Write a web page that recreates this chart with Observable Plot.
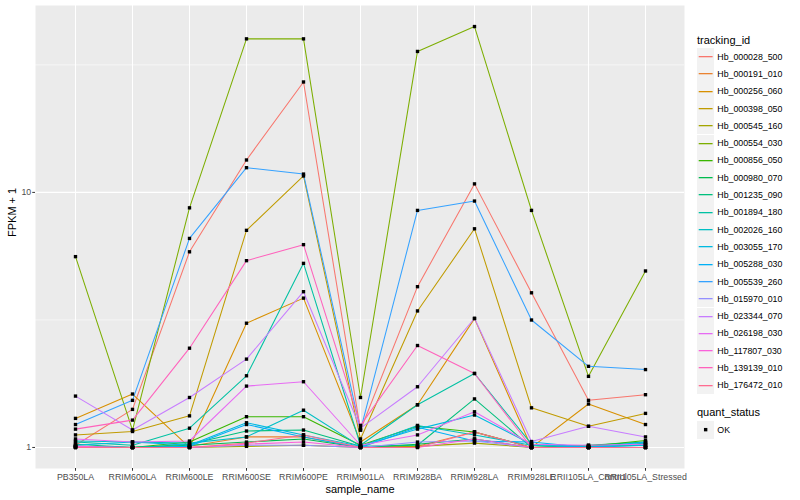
<!DOCTYPE html>
<html>
<head>
<meta charset="utf-8">
<script src="https://cdn.jsdelivr.net/npm/d3@7"></script>
<script src="https://cdn.jsdelivr.net/npm/@observablehq/plot@0.6"></script>
<style>
  html, body { margin: 0; padding: 0; background: #fff; }
  #wrap { position: relative; width: 800px; height: 500px; font-family: "Liberation Sans", Arial, Helvetica, sans-serif; }
  #legend { position: absolute; left: 697px; top: 0; width: 103px; }
  .ltitle { position: absolute; left: 0; font-size: 11px; color: #000; white-space: nowrap; line-height: 1; }
  .lrow { position: absolute; left: 0; height: 17.3px; display: flex; align-items: center; white-space: nowrap; }
  .lkey { width: 17.3px; height: 17.3px; background: #F2F2F2; position: relative; flex: none; }
  .ltext { font-size: 8.8px; color: #000; margin-left: 3px; }
</style>
</head>
<body>
<div id="wrap"><div id="chart"></div><div id="legend"></div></div>
<script>
const samples = ["PB350LA","RRIM600LA","RRIM600LE","RRIM600SE","RRIM600PE","RRIM901LA","RRIM928BA","RRIM928LA","RRIM928LE","RRII105LA_Control","RRII105LA_Stressed"];
const ids = ["Hb_000028_500","Hb_000191_010","Hb_000256_060","Hb_000398_050","Hb_000545_160","Hb_000554_030","Hb_000856_050","Hb_000980_070","Hb_001235_090","Hb_001894_180","Hb_002026_160","Hb_003055_170","Hb_005288_030","Hb_005539_260","Hb_015970_010","Hb_023344_070","Hb_026198_030","Hb_117807_030","Hb_139139_010","Hb_176472_010"];
const colors = ["#F8766D","#EA8331","#D89000","#C09B00","#A3A500","#7CAE00","#39B600","#00BB4E","#00BF7D","#00C1A3","#00BFC4","#00BAE0","#00B0F6","#35A2FF","#9590FF","#C77CFF","#E76BF3","#FA62DB","#FF62BC","#FF6C91"];
// FPKM + 1 per tracking_id (rows, same order as ids), per sample (columns)
const fpkm = [
  [1.02, 1.41, 5.85, 13.4, 27.1, 1.17, 4.27, 10.8, 4.04, 1.53, 1.61],
  [1.01, 1.00, 1.01, 1.10, 1.10, 1.00, 1.01, 1.15, 1.00, 1.00, 1.00],
  [1.30, 1.62, 1.00, 3.07, 3.85, 1.05, 1.47, 3.20, 1.00, 1.48, 1.23],
  [1.12, 1.155, 1.33, 7.1, 11.6, 1.08, 3.43, 7.2, 1.43, 1.21, 1.36],
  [1.00, 1.00, 1.00, 1.01, 1.02, 1.00, 1.01, 1.04, 1.00, 1.00, 1.00],
  [5.6, 1.17, 8.7, 40.0, 40.0, 1.57, 35.7, 44.7, 8.5, 1.90, 4.92],
  [1.01, 1.00, 1.05, 1.32, 1.32, 1.02, 1.21, 1.15, 1.00, 1.01, 1.065],
  [1.00, 1.00, 1.02, 1.05, 1.08, 1.00, 1.03, 1.08, 1.00, 1.02, 1.05],
  [1.03, 1.00, 1.03, 1.16, 1.17, 1.01, 1.02, 1.55, 1.00, 1.01, 1.03],
  [1.05, 1.02, 1.19, 1.91, 5.27, 1.02, 1.47, 1.95, 1.03, 1.01, 1.02],
  [1.06, 1.05, 1.04, 1.10, 1.40, 1.01, 1.22, 1.12, 1.02, 1.00, 1.04],
  [1.02, 1.05, 1.02, 1.25, 1.12, 1.01, 1.18, 1.34, 1.03, 1.00, 1.02],
  [1.01, 1.00, 1.01, 1.23, 1.10, 1.00, 1.20, 1.06, 1.05, 1.00, 1.05],
  [1.23, 1.53, 6.6, 12.5, 11.8, 1.17, 8.5, 9.25, 3.16, 2.08, 2.02],
  [1.00, 1.00, 1.00, 1.02, 1.02, 1.00, 1.05, 1.06, 1.00, 1.00, 1.00],
  [1.59, 1.17, 1.57, 2.22, 4.08, 1.19, 1.73, 3.21, 1.055, 1.21, 1.10],
  [1.08, 1.05, 1.06, 1.74, 1.81, 1.02, 1.12, 1.38, 1.03, 1.02, 1.03],
  [1.01, 1.00, 1.00, 1.03, 1.05, 1.00, 1.00, 1.08, 1.00, 1.00, 1.00],
  [1.18, 1.28, 2.45, 5.4, 6.24, 1.22, 2.51, 1.95, 1.00, 1.00, 1.00],
  [1.00, 1.00, 1.00, 1.04, 1.12, 1.00, 1.00, 1.15, 1.00, 1.00, 1.00]
];
const yTicks = [1, 10];
const yMinor = [Math.sqrt(10), Math.sqrt(1000)];
const statusLevels = ["OK"];

const data = [];
ids.forEach((id, i) => samples.forEach((s, j) => data.push({id, sample: s, value: fpkm[i][j], status: "OK"})));

// ggplot-like 5% expansion on log scale
const [lo, hi] = d3.extent(data, d => Math.log10(d.value));
const span = hi - lo;
const yDomain = [Math.pow(10, lo - 0.05 * span), Math.pow(10, hi + 0.05 * span)];

const font = '"Liberation Sans", Arial, Helvetica, sans-serif';
const chart = Plot.plot({
  width: 800,
  height: 500,
  marginLeft: 35,
  marginRight: 116,
  marginTop: 5,
  marginBottom: 32,
  style: {fontFamily: font, background: "transparent"},
  x: {type: "point", domain: samples, padding: 0.6, label: null},
  y: {type: "log", domain: yDomain, label: null},
  color: {domain: ids, range: colors},
  marks: [
    Plot.frame({fill: "#EBEBEB", stroke: null}),
    Plot.ruleY(yMinor, {stroke: "white", strokeWidth: 0.55}),
    Plot.ruleY(yTicks, {stroke: "white", strokeWidth: 1.07}),
    Plot.ruleX(samples, {stroke: "white", strokeWidth: 1.07}),
    Plot.line(data, {x: "sample", y: "value", z: "id", stroke: "id", strokeWidth: 1.05}),
    Plot.dot(data, {x: "sample", y: "value", symbol: "square", r: 1.9, fill: "black", stroke: null}),
    Plot.axisX({tickSize: 2.75, tickPadding: 2.2, fontSize: 8.8, fill: "#4D4D4D", stroke: "#333333", label: null}),
    Plot.axisY({ticks: yTicks, tickFormat: d => String(d), tickSize: 2.75, tickPadding: 1.5, fontSize: 8.8, fill: "#4D4D4D", stroke: "#333333", label: null}),
    Plot.text(["sample_name"], {frameAnchor: "bottom", lineAnchor: "middle", dy: 20.5, fontSize: 11, fill: "black"}),
    Plot.text(["FPKM + 1"], {frameAnchor: "left", rotate: -90, dx: -23, fontSize: 11, fill: "black"})
  ]
});
document.getElementById("chart").appendChild(chart);

// Legend (right side)
const legend = document.getElementById("legend");
const rowH = 17.3;
const t1 = document.createElement("div");
t1.className = "ltitle"; t1.textContent = "tracking_id"; t1.style.top = "35px";
legend.appendChild(t1);
ids.forEach((id, i) => {
  const row = document.createElement("div");
  row.className = "lrow";
  row.style.top = (48 + i * rowH) + "px";
  row.innerHTML = `<div class="lkey"><svg width="17.3" height="17.3" style="position:absolute;left:0;top:0"><line x1="1.7" x2="15.6" y1="8.65" y2="8.65" stroke="${colors[i]}" stroke-width="1.3"/></svg></div><span class="ltext">${id}</span>`;
  legend.appendChild(row);
});
const t2 = document.createElement("div");
t2.className = "ltitle"; t2.textContent = "quant_status"; t2.style.top = "406.5px";
legend.appendChild(t2);
statusLevels.forEach((s, i) => {
  const row = document.createElement("div");
  row.className = "lrow";
  row.style.top = (421.3 + i * rowH) + "px";
  row.innerHTML = `<div class="lkey"><svg width="17.3" height="17.3" style="position:absolute;left:0;top:0"><rect x="6.95" y="6.95" width="3.4" height="3.4" fill="black"/></svg></div><span class="ltext">${s}</span>`;
  legend.appendChild(row);
});
</script>
</body>
</html>
